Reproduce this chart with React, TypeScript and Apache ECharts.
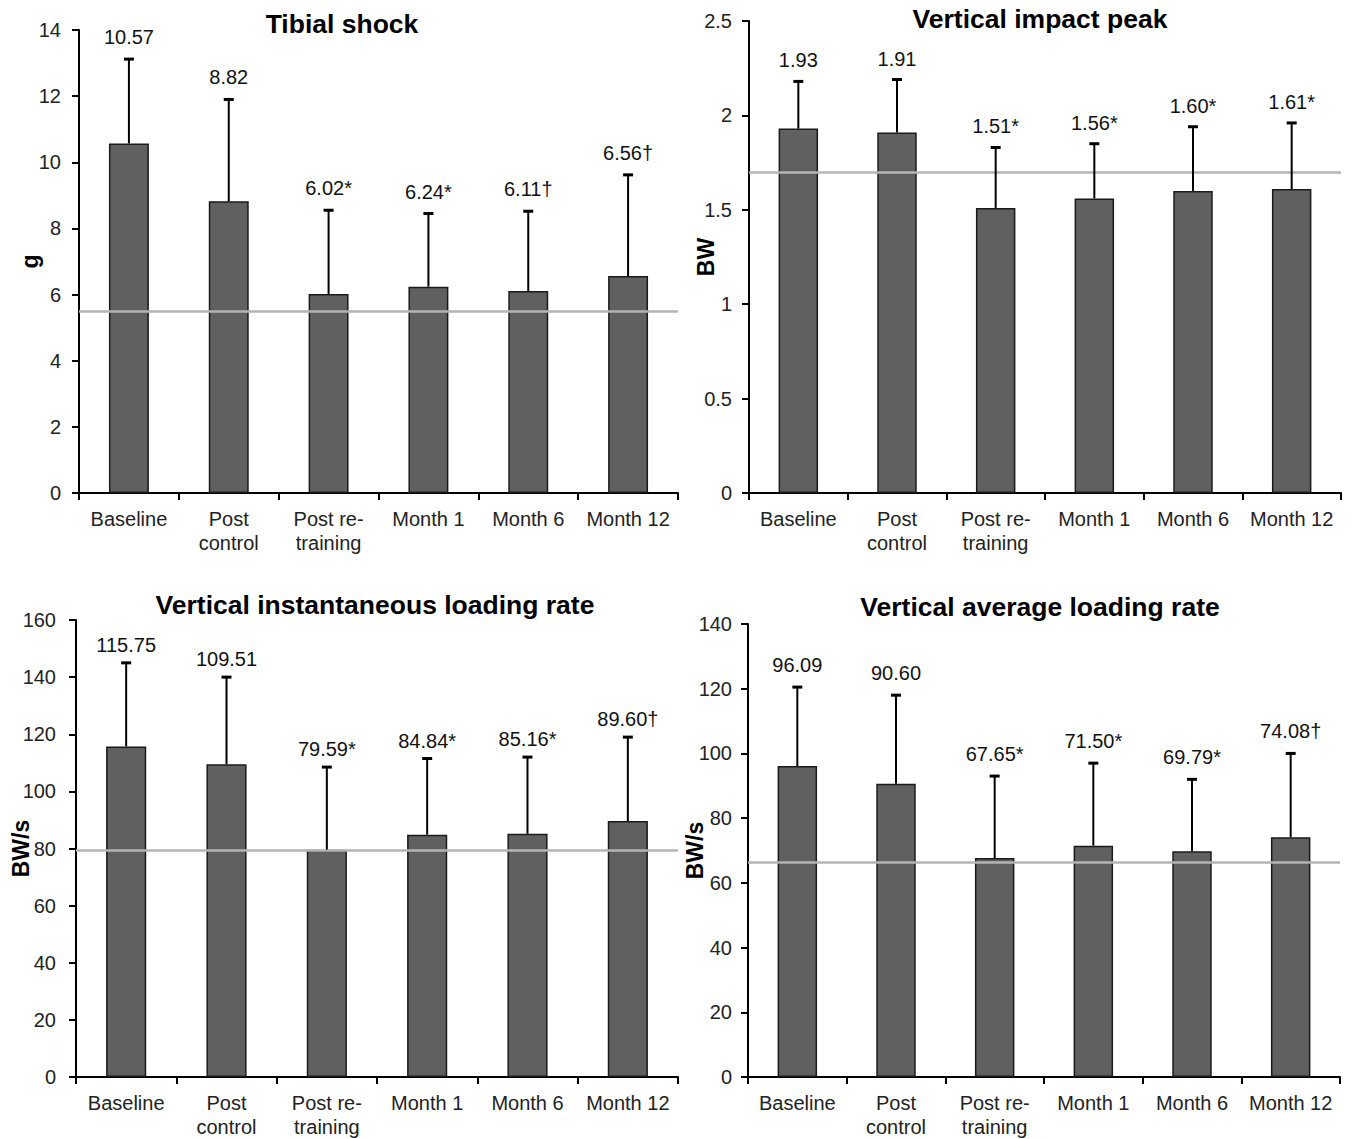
import React, { useEffect, useRef } from "react";
import * as echarts from "echarts";

const categories = ["Baseline", "Post\ncontrol", "Post re-\ntraining", "Month 1", "Month 6", "Month 12"];

const tibialMean = [10.57, 8.82, 6.02, 6.24, 6.11, 6.56];
const tibialUpper = [13.12, 11.9, 8.55, 8.45, 8.52, 9.62];
const tibialLabels = ["10.57", "8.82", "6.02*", "6.24*", "6.11†", "6.56†"];
const tibialRef = 5.5;

const impactMean = [1.93, 1.91, 1.51, 1.56, 1.6, 1.61];
const impactUpper = [2.18, 2.19, 1.83, 1.85, 1.94, 1.96];
const impactLabels = ["1.93", "1.91", "1.51*", "1.56*", "1.60*", "1.61*"];
const impactRef = 1.7;

const vilrMean = [115.75, 109.51, 79.59, 84.84, 85.16, 89.6];
const vilrUpper = [145, 140, 108.5, 111.5, 112, 119];
const vilrLabels = ["115.75", "109.51", "79.59*", "84.84*", "85.16*", "89.60†"];
const vilrRef = 79.5;

const valrMean = [96.09, 90.6, 67.65, 71.5, 69.79, 74.08];
const valrUpper = [120.5, 118, 93, 97, 92, 100];
const valrLabels = ["96.09", "90.60", "67.65*", "71.50*", "69.79*", "74.08†"];
const valrRef = 66.3;

const FONT = "Arial, 'Liberation Sans', Helvetica, sans-serif";

type Panel = {
  title: string;
  yName: string;
  mean: number[];
  upper: number[];
  labels: string[];
  ref: number;
  max: number;
  interval: number;
  grid: { left: number; top: number; width: number; height: number };
  titleX: number;
  titleY: number;
  nameGap: number;
  labelMargin: number;
  valueOffset: number;
};

const panels: Panel[] = [
  {
    title: "Tibial shock", yName: "g", mean: tibialMean, upper: tibialUpper, labels: tibialLabels,
    ref: tibialRef, max: 14, interval: 2,
    grid: { left: 79, top: 30, width: 599, height: 463 }, titleX: 342, titleY: 24, nameGap: 38,
    labelMargin: 18, valueOffset: 22,
  },
  {
    title: "Vertical impact peak", yName: "BW", mean: impactMean, upper: impactUpper, labels: impactLabels,
    ref: impactRef, max: 2.5, interval: 0.5,
    grid: { left: 749, top: 21, width: 592, height: 472 }, titleX: 1040, titleY: 19, nameGap: 32,
    labelMargin: 17, valueOffset: 21,
  },
  {
    title: "Vertical instantaneous loading rate", yName: "BW/s", mean: vilrMean, upper: vilrUpper, labels: vilrLabels,
    ref: vilrRef, max: 160, interval: 20,
    grid: { left: 76, top: 620, width: 602, height: 459 }, titleX: 375, titleY: 605, nameGap: 44,
    labelMargin: 20, valueOffset: 18,
  },
  {
    title: "Vertical average loading rate", yName: "BW/s", mean: valrMean, upper: valrUpper, labels: valrLabels,
    ref: valrRef, max: 140, interval: 20,
    grid: { left: 748, top: 624, width: 592, height: 453 }, titleX: 1040, titleY: 607, nameGap: 42,
    labelMargin: 16, valueOffset: 22,
  },
];

export default function App() {
  const ref = useRef<HTMLDivElement>(null);
  useEffect(() => {
    document.body.style.margin = "0";
    const chart = echarts.init(ref.current!, null, { renderer: "svg" });
    const grids: any[] = [];
    const xAxes: any[] = [];
    const yAxes: any[] = [];
    const series: any[] = [];
    const graphics: any[] = [];
    panels.forEach((p, i) => {
      grids.push({ ...p.grid });
      xAxes.push({
        type: "category",
        gridIndex: i,
        data: categories,
        axisLine: { lineStyle: { color: "#000", width: 2 } },
        axisTick: { show: true, length: 7, lineStyle: { color: "#000", width: 2 } },
        axisLabel: { color: "#222", fontSize: 20, fontFamily: FONT, margin: 14, lineHeight: 24, interval: 0 },
      });
      yAxes.push({
        type: "value",
        gridIndex: i,
        min: 0,
        max: p.max,
        interval: p.interval,
        splitLine: { show: false },
        axisLine: { show: true, lineStyle: { color: "#000", width: 2 } },
        axisTick: { show: true, length: 7, lineStyle: { color: "#000", width: 2 } },
        axisLabel: { color: "#222", fontSize: 20, fontFamily: FONT, margin: p.labelMargin },
        name: p.yName,
        nameLocation: "middle",
        nameRotate: 90,
        nameGap: p.nameGap,
        nameMoveOverlap: false,
        nameTextStyle: { color: "#000", fontSize: 23, fontWeight: "bold", fontFamily: FONT },
      });
      series.push({
        type: "bar",
        xAxisIndex: i,
        yAxisIndex: i,
        data: p.mean,
        barWidth: "40%",
        itemStyle: { color: "#606060", borderColor: "#1a1a1a", borderWidth: 1.5 },
        z: 2,
      });
      series.push({
        type: "line",
        xAxisIndex: i,
        yAxisIndex: i,
        data: [],
        markLine: {
          silent: true,
          symbol: "none",
          label: { show: false },
          lineStyle: { color: "#b4b4b4", width: 2.5, type: "solid" },
          data: [{ yAxis: p.ref }],
        },
        z: 4,
      });
      const labels = p.labels;
      const off = p.valueOffset;
      series.push({
        type: "custom",
        xAxisIndex: i,
        yAxisIndex: i,
        data: p.mean.map((m, k) => [k, m, p.upper[k]]),
        z: 5,
        renderItem: (params: any, api: any) => {
          const base = api.coord([api.value(0), api.value(1)]);
          const top = api.coord([api.value(0), api.value(2)]);
          const x = base[0];
          return {
            type: "group",
            children: [
              { type: "line", shape: { x1: x, y1: base[1], x2: x, y2: top[1] }, style: { stroke: "#000", lineWidth: 2 } },
              { type: "line", shape: { x1: x - 5, y1: top[1], x2: x + 5, y2: top[1] }, style: { stroke: "#000", lineWidth: 3 } },
              {
                type: "text",
                x: x,
                y: top[1] - off,
                style: {
                  text: labels[params.dataIndex],
                  fill: "#111",
                  font: `20px ${FONT}`,
                  fontSize: 20,
                  fontFamily: FONT,
                  align: "center",
                  verticalAlign: "middle",
                  textAlign: "center",
                  textVerticalAlign: "middle",
                },
              },
            ],
          };
        },
      });
      graphics.push({
        type: "text",
        x: p.titleX,
        y: p.titleY,
        style: {
          text: p.title,
          fill: "#000",
          font: `bold 26.5px ${FONT}`,
          fontSize: 26.5,
          fontWeight: "bold",
          fontFamily: FONT,
          align: "center",
          verticalAlign: "middle",
          textAlign: "center",
          textVerticalAlign: "middle",
        },
      });
    });
    chart.setOption({
      animation: false,
      backgroundColor: "#fff",
      grid: grids,
      xAxis: xAxes,
      yAxis: yAxes,
      series,
      graphic: graphics,
    });
    return () => chart.dispose();
  }, []);
  return <div ref={ref} style={{ width: 1356, height: 1139 }} />;
}
